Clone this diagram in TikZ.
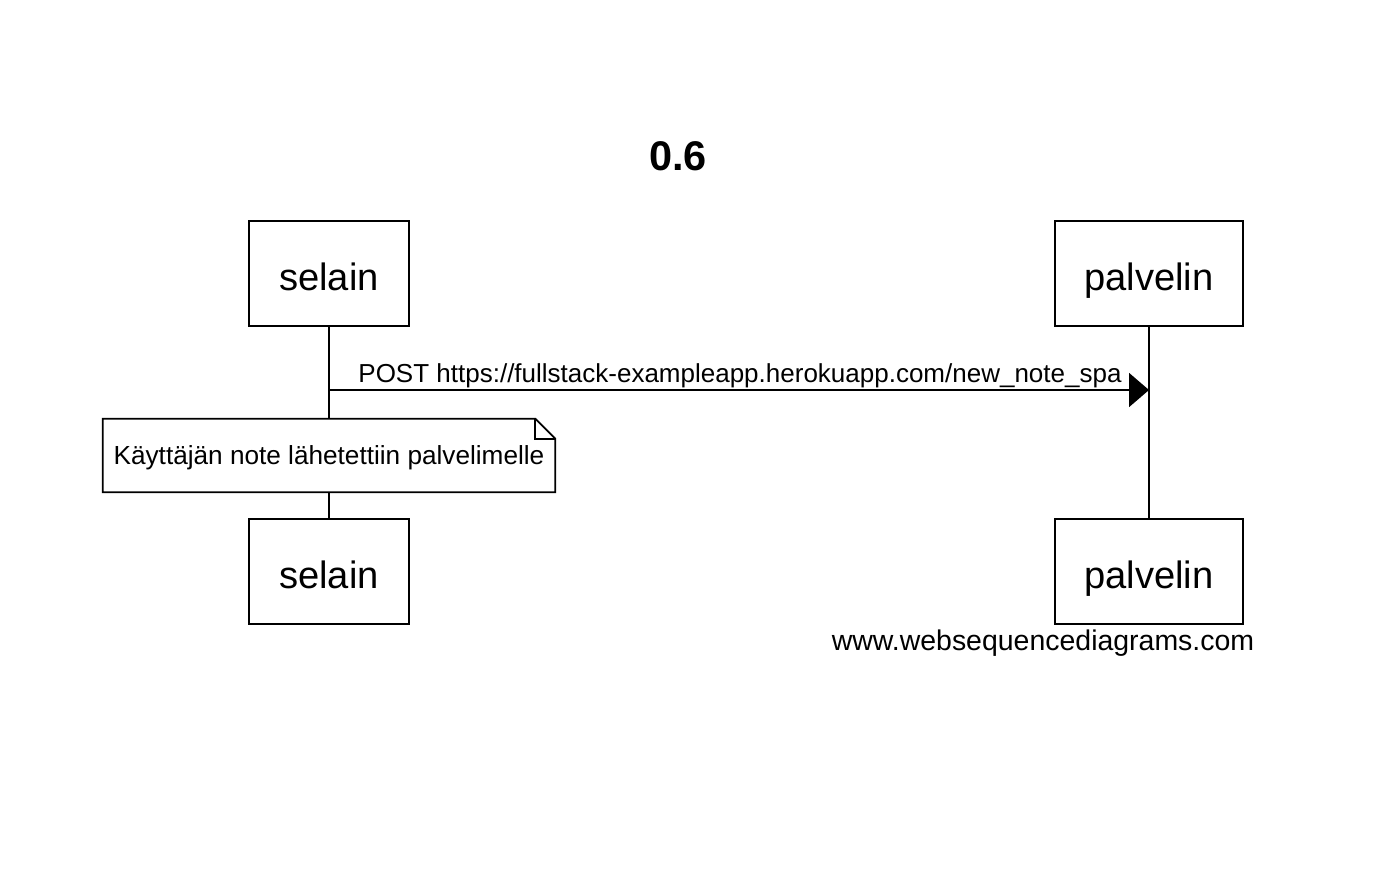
\documentclass[tikz,border=0pt]{standalone}
\usepackage{fontspec}
\setmainfont{Liberation Sans}
\usetikzlibrary{arrows.meta}

\tikzset{
  actor/.style={draw, line width=1pt, inner sep=0pt, minimum height=2.1cm,
    text height=0.66cm, text depth=0pt, font=\fontsize{21.7}{26}\selectfont},
  label/.style={inner sep=0pt, anchor=base, font=\fontsize{14.8}{18}\selectfont},
  lifeline/.style={line width=1pt},
  msgarrow/.style={line width=1pt, -{Triangle[length=0.4cm, width=0.68cm]}},
}

\begin{document}
\begin{tikzpicture}[x=0.02cm, y=-0.02cm]
\useasboundingbox (0,0) rectangle (1382,872);

% Title
\node[inner sep=0pt, anchor=base, font=\bfseries\fontsize{23.6}{28}\selectfont]
  (title) at (678,170) {0.6};

% Participants
\node[actor, minimum width=3.2cm] (selainTop) at (329,273.5) {selain};
\node[actor, minimum width=3.76cm] (palvelinTop) at (1149,273.5) {palvelin};
\node[actor, minimum width=3.2cm] (selainBot) at (329,571.5) {selain};
\node[actor, minimum width=3.76cm] (palvelinBot) at (1149,571.5) {palvelin};

% Lifelines
\draw[lifeline] (selainTop.south) -- (selainBot.north);
\draw[lifeline] (palvelinTop.south) -- (palvelinBot.north);

% Message
\coordinate (msgFrom) at (329,390);
\coordinate (msgTo) at (1149,390);
\draw[msgarrow] (msgFrom) -- (msgTo);
\node[label] (msg) at (740,382)
  {POST https://fullstack-exampleapp.herokuapp.com/new\_note\_spa};

% Note
\node[fill=white, inner sep=0pt, minimum width=9.04cm, minimum height=1.46cm,
  text height=0.34cm, text depth=0pt, font=\fontsize{14.9}{18}\selectfont]
  (note) at (329,455.5) {Käyttäjän note lähetettiin palvelimelle};
\draw[line width=1pt] (note.south west) -- (note.north west)
  -- ([xshift=-0.4cm]note.north east) -- ([yshift=-0.4cm]note.north east)
  -- (note.south east) -- cycle;
\draw[line width=1pt] ([xshift=-0.4cm]note.north east)
  |- ([yshift=-0.4cm]note.north east);

% Footer
\node[label, font=\fontsize{16.2}{19}\selectfont] (footer) at (1043,650)
  {www.websequencediagrams.com};

\end{tikzpicture}
\end{document}
